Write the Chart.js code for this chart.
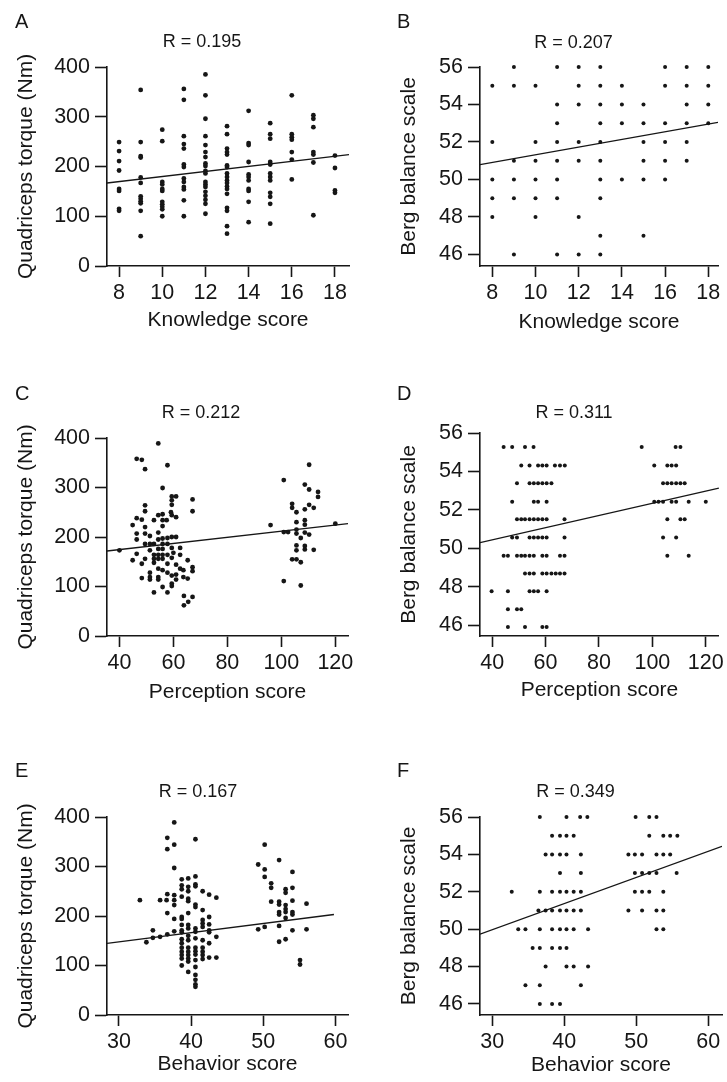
<!DOCTYPE html>
<html>
<head>
<meta charset="utf-8">
<script src="https://cdn.jsdelivr.net/npm/chart.js@4/dist/chart.umd.min.js"></script>
<style>
  html, body { margin: 0; padding: 0; background: #fff; }
  #wrap { position: relative; width: 727px; height: 1082px; overflow: hidden; background: #fff; }
  canvas { position: absolute; }
</style>
</head>
<body>
<div id="wrap"></div>
<script>
// ---- tick labels ----
const knowledgeTicks = [8, 10, 12, 14, 16, 18];
const perceptionTicks = [40, 60, 80, 100, 120];
const behaviorTicks = [30, 40, 50, 60];
const torqueTicks = [0, 100, 200, 300, 400];
const bergTicks = [46, 48, 50, 52, 54, 56];

// ---- A: knowledge score vs quadriceps torque (columns: score, torques) ----
const knowledgeTorque = [
  [8,  [249, 231, 211, 192, 155, 151, 115, 111]],
  [9,  [354, 249, 221, 218, 178, 167, 140, 135, 130, 126, 111, 60]],
  [10, [274, 251, 169, 164, 155, 151, 129, 124, 119, 114, 100]],
  [11, [356, 334, 261, 245, 236, 204, 199, 176, 169, 159, 154, 132, 100]],
  [12, [385, 343, 296, 261, 243, 229, 219, 206, 201, 191, 186, 169, 164, 159, 149, 141, 133, 125, 105]],
  [13, [281, 265, 236, 229, 224, 202, 199, 186, 179, 172, 167, 160, 155, 145, 117, 111, 80, 65]],
  [14, [312, 247, 243, 209, 184, 179, 172, 155, 151, 129, 88]],
  [15, [287, 265, 256, 209, 204, 186, 179, 172, 147, 139, 125, 85]],
  [16, [343, 265, 259, 254, 229, 214, 174]],
  [17, [303, 296, 279, 229, 224, 208, 102]],
  [18, [222, 197, 152, 147]]
];
const fitA = [[7.44, 166.8], [18.65, 224]];

// ---- B: knowledge score vs Berg balance (columns: score, Berg values) ----
const knowledgeBerg = [
  [8,  [55, 52, 50, 49, 48]],
  [9,  [56, 55, 51, 50, 49, 46]],
  [10, [55, 52, 51, 50, 49, 48]],
  [11, [56, 54, 53, 52, 51, 50, 49, 46]],
  [12, [56, 55, 54, 52, 51, 48, 46]],
  [13, [56, 55, 54, 53, 52, 51, 50, 49, 47, 46]],
  [14, [55, 54, 53, 50]],
  [15, [54, 53, 52, 51, 50, 47]],
  [16, [56, 55, 53, 52, 51, 50]],
  [17, [56, 55, 54, 53, 52, 51]],
  [18, [56, 55, 54, 53]]
];
const fitB = [[7.43, 50.79], [18.45, 53.05]];

// ---- C: perception score vs quadriceps torque ----
const perceptionTorque = [
  [54.4,389],[46.4,358],[48.3,356],[49.5,337],[57.8,345],[56.0,299],[59.4,282],[61.0,282],
  [59.4,274],[67.1,276],[49.5,264],[59.4,265],[67.1,252],[49.5,252],[59.1,250],[59.4,244],
  [54.4,244],[56.0,246],[46.4,238],[48.3,235],[61.0,240],[52.8,234],[56.0,234],[57.5,234],
  [44.9,224],[49.5,220],[56.0,222],[54.4,209],[46.4,207],[49.5,207],[51.3,202],[57.8,198],
  [59.4,200],[61.0,200],[46.4,195],[54.4,195],[56.0,197],[49.5,186],[51.3,186],[52.8,186],
  [56.0,186],[57.8,186],[40.0,173],[51.3,173],[54.4,176],[56.0,176],[59.4,178],[62.5,178],
  [46.4,166],[52.8,164],[54.4,164],[56.0,164],[57.8,164],[60.0,168],[49.5,156],[52.8,156],
  [54.4,156],[56.0,156],[59.4,158],[44.9,153],[62.5,164],[48.3,146],[52.8,148],[57.8,146],
  [61.0,144],[65.3,153],[54.4,136],[56.0,133],[57.8,128],[62.5,136],[63.7,133],[67.1,139],
  [67.1,131],[51.3,128],[51.3,119],[54.4,119],[59.4,122],[61.0,124],[48.3,117],[63.7,119],
  [65.3,116],[51.3,114],[54.4,114],[61.0,114],[59.4,106],[59.4,101],[56.0,99],[52.8,88],
  [57.8,88],[63.9,81],[67.1,79],[65.5,69],[63.9,62],
  [110.3,346],[100.9,315],[108.7,306],[110.3,296],[113.6,291],[113.6,281],[104.0,267],[104.0,259],
  [105.6,250],[108.7,256],[110.3,265],[112.0,259],[96.0,224],[120.0,227],[108.7,234],[108.7,225],
  [105.6,230],[100.9,210],[102.5,210],[105.6,215],[105.6,207],[108.7,209],[110.3,205],[107.2,198],
  [105.6,183],[105.6,173],[108.7,182],[108.7,175],[112.0,174],[104.0,155],[105.6,155],[107.2,149],
  [100.9,111],[107.2,102]
];
const fitC = [[35.4, 171.7], [124.7, 227]];

// ---- D: perception score vs Berg balance (rows: Berg value, scores) ----
const perceptionBerg = [
  [55.27, [44.3, 47.5, 52.3, 55.5, 96.0, 108.7, 110.5]],
  [54.31, [50.9, 54.0, 57.2, 58.8, 60.4, 63.5, 65.4, 67.2, 100.7, 105.6, 107.2, 108.9]],
  [53.39, [49.3, 54.0, 55.6, 57.2, 58.8, 60.4, 62.2, 104.0, 105.6, 107.2, 108.9, 110.5, 112.1]],
  [52.43, [47.5, 55.6, 57.2, 60.4, 100.7, 102.3, 104.0, 107.2, 108.9, 113.6, 120.0]],
  [51.51, [49.3, 50.9, 52.3, 54.0, 55.6, 57.2, 58.8, 60.4, 67.1, 105.6, 110.5, 112.1]],
  [50.57, [47.5, 49.3, 54.0, 55.6, 57.2, 58.8, 60.4, 67.1, 104.0, 108.9]],
  [49.62, [44.3, 45.9, 49.3, 50.9, 52.3, 54.0, 55.6, 58.8, 60.4, 65.4, 67.1, 105.6, 113.6]],
  [48.69, [52.3, 54.0, 55.6, 58.8, 60.4, 62.2, 63.8, 65.4, 67.1]],
  [47.77, [39.8, 45.9, 54.0, 55.6, 57.2, 60.4]],
  [46.83, [45.9, 49.3, 50.9]],
  [45.91, [45.9, 52.3, 58.8, 60.4]]
];
const fitD = [[35.45, 50.3], [124.9, 53.13]];

// ---- E: behavior score vs quadriceps torque ----
const behaviorTorque = [
  [37.66,389],[36.7,358],[37.66,344],[36.7,335],[40.6,355],[37.66,297],[38.7,274],[39.6,276],
  [40.6,280],[40.6,264],[40.6,260],[38.7,262],[38.7,254],[39.6,259],[41.6,250],[42.5,243],
  [43.5,237],[32.9,232],[35.7,232],[36.7,244],[37.66,242],[36.6,232],[37.66,232],[38.7,239],
  [39.6,250],[39.6,235],[39.6,230],[37.66,222],[40.6,223],[40.6,218],[41.6,212],[36.7,206],
  [39.6,206],[37.66,194],[38.7,198],[38.7,194],[42.5,198],[41.6,192],[34.7,171],[37.66,169],
  [38.7,182],[38.7,171],[38.7,167],[39.6,182],[39.6,175],[40.6,175],[40.6,168],[41.6,185],
  [41.6,178],[42.5,183],[42.5,171],[42.5,167],[36.7,163],[35.7,158],[34.7,156],[33.8,147],
  [43.5,158],[38.7,153],[38.7,145],[38.7,136],[38.7,128],[38.7,121],[38.7,114],
  [39.6,160],[39.6,151],[39.6,136],[39.6,128],[39.6,121],[39.6,114],
  [40.6,155],[40.6,136],[40.6,129],[40.6,122],[41.6,151],[41.6,136],[41.6,128],[41.6,121],
  [42.5,145],[42.5,116],[43.5,116],[38.7,100],[39.6,108],[40.6,111],[41.6,113],[39.6,87],
  [40.6,97],[40.6,81],[40.6,71],[40.6,62],[40.6,57],
  [50.2,344],[49.3,304],[52.2,313],[50.2,294],[50.2,279],[54.05,289],[51.1,266],[51.1,257],
  [53.1,254],[53.1,247],[54.05,257],[51.1,229],[52.2,229],[52.2,223],[53.1,222],[53.1,214],
  [53.1,208],[54.05,231],[56.0,225],[52.2,208],[52.2,203],[54.05,208],[54.05,203],[53.1,196],
  [49.3,173],[50.2,178],[52.2,180],[54.05,171],[56.0,173],[52.2,148],[53.1,153],[55.1,111],
  [55.1,102]
];
const fitE = [[28.34, 144.5], [59.8, 203]];

// ---- F: behavior score vs Berg balance (rows: Berg value, scores) ----
const behaviorBerg = [
  [56, [36.6, 40.3, 42.2, 43.2, 49.9, 51.8, 52.8]],
  [55, [38.3, 39.4, 40.3, 41.3, 51.8, 53.75, 54.7, 55.7]],
  [54, [37.4, 38.3, 39.4, 40.3, 42.3, 48.9, 49.8, 50.8, 52.8, 53.75, 54.7]],
  [53, [39.4, 42.3, 49.8, 50.8, 51.8, 52.8, 55.6]],
  [52, [32.7, 36.6, 38.3, 39.4, 40.3, 41.3, 42.3, 49.8, 50.8, 51.8, 53.75]],
  [51, [36.4, 37.4, 38.3, 39.4, 40.3, 41.3, 42.3, 48.9, 50.8, 52.8, 53.75]],
  [50, [33.6, 34.6, 36.6, 38.3, 39.4, 40.3, 41.3, 43.3, 52.8, 53.75]],
  [49, [35.6, 36.6, 38.3, 39.4, 40.3]],
  [48, [37.4, 40.3, 41.3, 43.3]],
  [47, [34.6, 36.6, 42.3]],
  [46, [36.6, 38.3, 39.4]]
];
const fitF = [[28.29, 49.73], [61.9, 54.43]];

// ---- helpers to turn the tables into point lists ----
const byColumn = cols => cols.flatMap(([x, ys]) => ys.map(y => ({ x, y })));
const byRow = rows => rows.flatMap(([y, xs]) => xs.map(x => ({ x, y })));
const pairs = list => list.map(([x, y]) => ({ x, y }));

const FONT = '"Liberation Sans", Arial, Helvetica, sans-serif';
const INK = '#161616';

const panelText = {
  id: 'panelText',
  afterDraw(chart, args, o) {
    const ctx = chart.ctx;
    ctx.save();
    ctx.fillStyle = INK;
    ctx.textBaseline = 'alphabetic';
    ctx.font = '20px ' + FONT;
    ctx.textAlign = 'left';
    ctx.fillText(o.letter, o.letterX, o.letterY);
    ctx.font = '18px ' + FONT;
    ctx.textAlign = 'center';
    ctx.fillText(o.label, o.labelX, o.labelY);
    ctx.restore();
  }
};

const panels = [
  { letter: 'A', left: 0,   top: 0,   w: 364, h: 340, area: { l: 107, r: 349, b: 266, t: 67 },
    xr: [7.44, 18.65], yr: [0, 400], xt: knowledgeTicks, yt: torqueTicks,
    xTitle: 'Knowledge score', yTitle: 'Quadriceps torque (Nm)', label: 'R = 0.195',
    pts: byColumn(knowledgeTorque), fit: fitA, dot: 2.4,
    letterPos: [15, 28], labelPos: [202, 47], yTitleC: 26, xTitlePad: 7.2 },
  { letter: 'B', left: 364, top: 0,   w: 363, h: 340, area: { l: 116, r: 354, b: 266, t: 67 },
    xr: [7.43, 18.45], yr: [45.38, 56], xt: knowledgeTicks, yt: bergTicks,
    xTitle: 'Knowledge score', yTitle: 'Berg balance scale', label: 'R = 0.207',
    pts: byColumn(knowledgeBerg), fit: fitB, dot: 2.0,
    letterPos: [33, 28], labelPos: [209.5, 48], yTitleC: 45, xTitlePad: 5.2 },
  { letter: 'C', left: 0,   top: 340, w: 364, h: 370, area: { l: 107, r: 348, b: 296, t: 98 },
    xr: [35.4, 124.7], yr: [0, 400], xt: perceptionTicks, yt: torqueTicks,
    xTitle: 'Perception score', yTitle: 'Quadriceps torque (Nm)', label: 'R = 0.212',
    pts: pairs(perceptionTorque), fit: fitC, dot: 2.4,
    letterPos: [15, 60], labelPos: [201, 78], yTitleC: 26, xTitlePad: 5.2 },
  { letter: 'D', left: 364, top: 340, w: 363, h: 370, area: { l: 116, r: 358, b: 296, t: 93 },
    xr: [35.45, 124.9], yr: [45.44, 56], xt: perceptionTicks, yt: bergTicks,
    xTitle: 'Perception score', yTitle: 'Berg balance scale', label: 'R = 0.311',
    pts: byRow(perceptionBerg), fit: fitD, dot: 2.0,
    letterPos: [33, 60], labelPos: [210, 78], yTitleC: 45, xTitlePad: 7.2 },
  { letter: 'E', left: 0,   top: 710, w: 364, h: 372, area: { l: 107, r: 348, b: 305, t: 107 },
    xr: [28.34, 61.75], yr: [0, 400], xt: behaviorTicks, yt: torqueTicks,
    xTitle: 'Behavior score', yTitle: 'Quadriceps torque (Nm)', label: 'R = 0.167',
    pts: pairs(behaviorTorque), fit: fitE, dot: 2.4,
    letterPos: [15, 67], labelPos: [198, 87], yTitleC: 26, xTitlePad: 5.2 },
  { letter: 'F', left: 364, top: 710, w: 363, h: 372, area: { l: 116, r: 358, b: 305, t: 107 },
    xr: [28.29, 61.9], yr: [45.41, 56], xt: behaviorTicks, yt: bergTicks,
    xTitle: 'Behavior score', yTitle: 'Berg balance scale', label: 'R = 0.349',
    pts: byRow(behaviorBerg), fit: fitF, dot: 2.0,
    letterPos: [33, 67], labelPos: [211.5, 87], yTitleC: 45, xTitlePad: 4.2 }
];

const wrap = document.getElementById('wrap');

panels.forEach(p => {
  const cv = document.createElement('canvas');
  cv.width = p.w; cv.height = p.h;
  cv.style.left = p.left + 'px'; cv.style.top = p.top + 'px';
  cv.style.width = p.w + 'px'; cv.style.height = p.h + 'px';
  wrap.appendChild(cv);

  const axisLine = { display: true, color: INK, width: 1.6 };
  const tickFont = { family: FONT, size: 21.5 };
  const titleFont = { family: FONT, size: 21, lineHeight: 1.2 };

  new Chart(cv, {
    data: {
      datasets: [
        { type: 'scatter', data: p.pts, pointRadius: p.dot, pointHoverRadius: p.dot,
          pointBackgroundColor: INK, pointBorderWidth: 0, clip: 8, order: 2 },
        { type: 'line', data: pairs(p.fit), borderColor: INK, borderWidth: 1.3,
          pointRadius: 0, fill: false, tension: 0, order: 1 }
      ]
    },
    options: {
      responsive: false,
      animation: false,
      devicePixelRatio: 1,
      layout: { padding: { left: 0, right: p.w - p.area.r, top: p.area.t, bottom: 0 } },
      plugins: {
        legend: { display: false },
        tooltip: { enabled: false },
        panelText: {
          letter: p.letter, letterX: p.letterPos[0], letterY: p.letterPos[1],
          label: p.label, labelX: p.labelPos[0], labelY: p.labelPos[1]
        }
      },
      scales: {
        x: {
          type: 'linear', position: 'bottom', min: p.xr[0], max: p.xr[1],
          afterBuildTicks: s => { s.ticks = p.xt.map(v => ({ value: v })); },
          afterFit: s => { s.height = p.h - p.area.b; },
          border: axisLine,
          grid: { display: true, drawOnChartArea: false, drawTicks: true, tickLength: 11,
                  tickColor: INK, tickWidth: 1.6 },
          ticks: { color: INK, font: tickFont, padding: 3, maxRotation: 0, autoSkip: false },
          title: { display: true, text: p.xTitle, color: INK, font: titleFont,
                   padding: { top: 0, bottom: p.xTitlePad } }
        },
        y: {
          type: 'linear', position: 'left', min: p.yr[0], max: p.yr[1],
          afterBuildTicks: s => { s.ticks = p.yt.map(v => ({ value: v })); },
          afterFit: s => { s.width = p.area.l; },
          border: axisLine,
          grid: { display: true, drawOnChartArea: false, drawTicks: true, tickLength: 12,
                  tickColor: INK, tickWidth: 1.6 },
          ticks: { color: INK, font: tickFont, padding: 5, autoSkip: false },
          title: { display: true, text: p.yTitle, color: INK, font: titleFont,
                   padding: { top: p.yTitleC - 12.6, bottom: 0 } }
        }
      }
    },
    plugins: [panelText]
  });
});
</script>
</body>
</html>
